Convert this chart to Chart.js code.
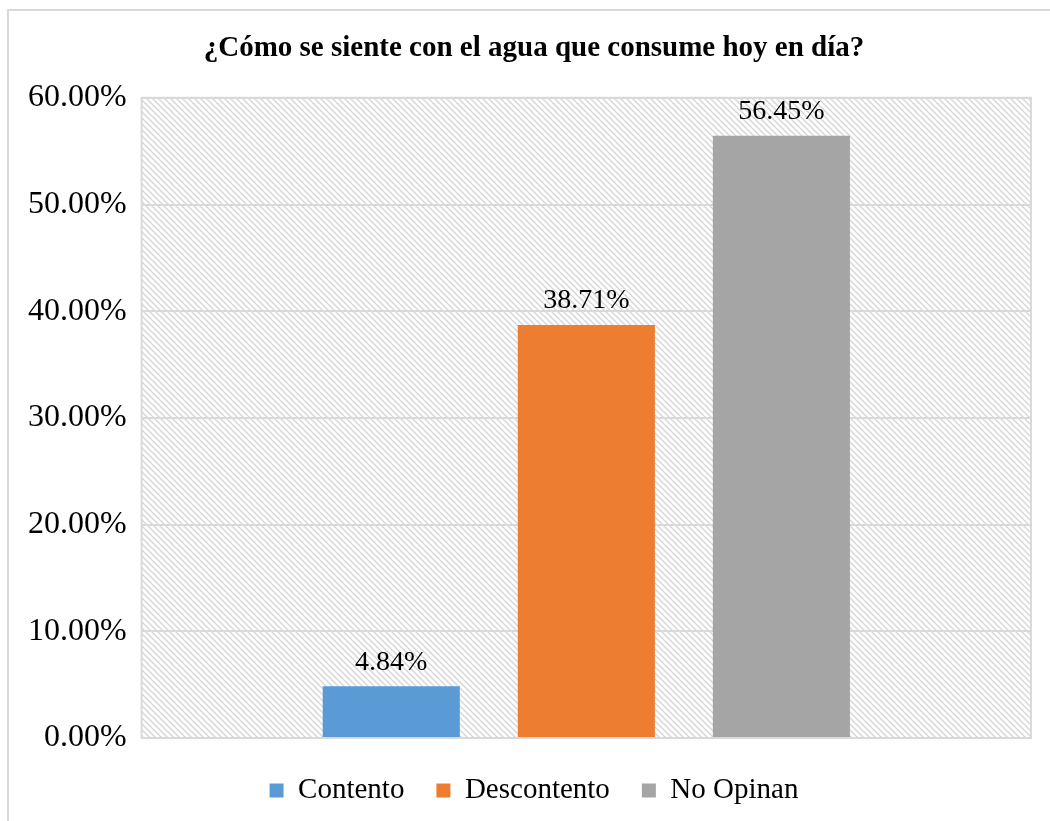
<!DOCTYPE html>
<html>
<head>
<meta charset="utf-8">
<script src="https://cdn.jsdelivr.net/npm/chart.js@4/dist/chart.umd.min.js"></script>
<style>
    html, body { margin: 0; padding: 0; background: #ffffff; overflow: hidden; }
    #frame { position: absolute; left: 7px; top: 9px; width: 1100px; height: 900px; border-left: 2px solid #d9d9d9; border-top: 2px solid #d9d9d9; }
    #holder { position: absolute; left: 0; top: 0; width: 1055px; height: 821px; }
</style>
</head>
<body>
<div id="frame"></div>
<div id="holder"><canvas id="agua-chart"></canvas></div>
<script>
var chartTitle = "¿Cómo se siente con el agua que consume hoy en día?";
var seriesNames = ["Contento", "Descontento", "No Opinan"];
var seriesValues = [0.0484, 0.3871, 0.5645];
var seriesColors = ["#5B9BD5", "#ED7D31", "#A5A5A5"];
var yTicks = [0, 0.1, 0.2, 0.3, 0.4, 0.5, 0.6];

function makeHatch() {
    var tile = document.createElement("canvas");
    tile.width = 6;
    tile.height = 6;
    var c = tile.getContext("2d");
    c.fillStyle = "#ffffff";
    c.fillRect(0, 0, 6, 6);
    c.strokeStyle = "#d4d4d4";
    c.lineWidth = 1.3;
    c.beginPath();
    c.moveTo(-1, -1);
    c.lineTo(7, 7);
    c.moveTo(-1, 5);
    c.lineTo(1, 7);
    c.moveTo(5, -1);
    c.lineTo(7, 1);
    c.stroke();
    return tile;
}

var plotBackground = {
    id: "plotBackground",
    beforeDraw: function (chart) {
        var area = chart.chartArea;
        var ctx = chart.ctx;
        ctx.save();
        ctx.fillStyle = ctx.createPattern(makeHatch(), "repeat");
        ctx.fillRect(area.left, area.top, area.right - area.left, area.bottom - area.top);
        ctx.restore();
    },
    afterDatasetsDraw: function (chart) {
        var area = chart.chartArea;
        var ctx = chart.ctx;
        ctx.save();
        ctx.strokeStyle = "#d9d9d9";
        ctx.lineWidth = 2;
        ctx.strokeRect(area.left, area.top, area.right - area.left, area.bottom - area.top);

        ctx.fillStyle = "#000000";
        ctx.font = "28px 'Liberation Serif'";
        ctx.textAlign = "center";
        ctx.textBaseline = "bottom";
        chart.data.datasets.forEach(function (ds, i) {
            var bar = chart.getDatasetMeta(i).data[0];
            ctx.fillText((ds.data[0] * 100).toFixed(2) + "%", bar.x, bar.y - 10);
        });
        ctx.restore();
    }
};

var datasets = seriesNames.map(function (name, i) {
    return {
        label: name,
        data: [seriesValues[i]],
        backgroundColor: seriesColors[i],
        borderWidth: 0
    };
});

new Chart(
    document.getElementById("agua-chart"),
    {
        type: "bar",
        data: {
            labels: [""],
            datasets: datasets
        },
        options: {
            responsive: true,
            maintainAspectRatio: false,
            animation: false,
            categoryPercentage: 0.658,
            barPercentage: 0.703,
            layout: {
                padding: { left: 13, right: 0, top: 0, bottom: 6 }
            },
            scales: {
                x: {
                    grid: { display: false },
                    border: { display: false },
                    ticks: { display: false },
                    afterFit: function (axis) {
                        axis.height = 6;
                    }
                },
                y: {
                    min: 0,
                    max: 0.6,
                    afterBuildTicks: function (axis) {
                        axis.ticks = yTicks.map(function (v) { return { value: v }; });
                    },
                    grid: { color: "#d9d9d9", lineWidth: 2, drawTicks: false },
                    border: { display: false },
                    ticks: {
                        padding: 15,
                        color: "#000000",
                        font: { family: "'Liberation Serif'", size: 32 },
                        callback: function (value) {
                            return (value * 100).toFixed(2) + "%";
                        }
                    }
                },
                // empty right-hand spacer so title and legend sit a bit right of centre
                spacer: {
                    type: "linear",
                    position: "right",
                    grid: { display: false },
                    border: { display: false },
                    ticks: { display: false },
                    afterFit: function (axis) {
                        axis.width = 24;
                    }
                }
            },
            plugins: {
                title: {
                    display: true,
                    text: chartTitle,
                    color: "#000000",
                    font: { family: "'Liberation Serif'", size: 29, weight: "bold" },
                    padding: { top: 31, bottom: 32 }
                },
                legend: {
                    position: "bottom",
                    labels: {
                        color: "#000000",
                        font: { family: "'Liberation Serif'", size: 29 },
                        boxWidth: 14,
                        boxHeight: 14,
                        padding: 32
                    }
                },
                tooltip: { enabled: false }
            }
        },
        plugins: [plotBackground]
    }
);
</script>
</body>
</html>
